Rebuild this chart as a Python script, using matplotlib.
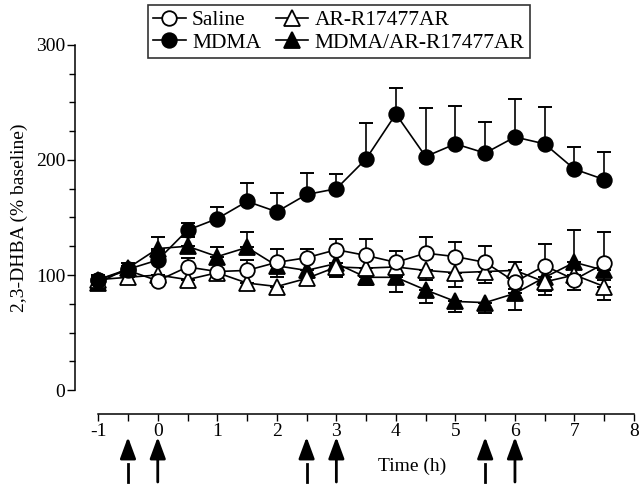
import numpy as np
import matplotlib
matplotlib.use("Agg")
import matplotlib.pyplot as plt
import matplotlib.transforms as mtransforms
from matplotlib.ticker import MultipleLocator

plt.rcParams['font.family'] = ['Liberation Serif', 'DejaVu Serif']

# time points (h)
hours = np.arange(-1, 8, 0.5)

saline = [96, 104, 95, 107, 103, 104, 111, 115, 122, 117, 111, 119, 116, 111, 94, 108, 96, 110]
saline_hi = [3, 4, 5, 8, 7, 9, 12, 8, 9, 14, 10, 14, 13, 14, 0, 19, 0, 27]
saline_lo = [0, 0, 0, 0, 0, 0, 0, 0, 0, 0, 0, 0, 0, 0, 6, 0, 9, 0]

ar = [96, 98, 100, 96, 102, 93, 90, 97, 107, 106, 107, 104, 102, 103, 104, 94, 100, 90]
ar_hi = [0, 0, 0, 0, 0, 0, 0, 0, 0, 0, 0, 0, 0, 0, 7, 0, 0, 0]
ar_lo = [3, 4, 5, 5, 6, 6, 6, 6, 8, 8, 8, 8, 12, 10, 0, 11, 8, 12]

mdma = [96, 105, 113, 139, 149, 164, 155, 170, 175, 201, 240, 203, 214, 206, 220, 214, 192, 183]
mdma_hi = [4, 5, 8, 6, 10, 16, 16, 19, 13, 31, 23, 42, 33, 27, 33, 32, 19, 24]
mdma_lo = [0] * 18

mdma_ar = [93, 106, 123, 125, 116, 124, 108, 104, 110, 98, 98, 87, 77, 76, 84, 98, 111, 104]
mdma_ar_hi = [0, 0, 10, 8, 8, 13, 0, 0, 0, 0, 0, 0, 0, 0, 0, 0, 28, 0]
mdma_ar_lo = [4, 4, 0, 0, 0, 0, 10, 6, 12, 7, 13, 11, 9, 9, 14, 12, 0, 8]

# drug administration times
solid_arrows = [0, 3, 6]
dashed_arrows = [-0.5, 2.5, 5.5]

fig = plt.figure(figsize=(6.4, 4.86), dpi=100)
ax = fig.add_axes([75 / 640, 96 / 486, (637 - 75) / 640, 345 / 486])

# drawing order: later series sit on top
series = [
    ("MDMA/AR-R17477AR", mdma_ar, mdma_ar_lo, mdma_ar_hi, "^", "black", 11),
    ("AR-R17477AR", ar, ar_lo, ar_hi, "^", "white", 11),
    ("Saline", saline, saline_lo, saline_hi, "o", "white", 10.5),
    ("MDMA", mdma, mdma_lo, mdma_hi, "o", "black", 10.5),
]

handles = {}
for i, (name, y, lo, hi, mk, fc, ms) in enumerate(series):
    z = 2 + i
    ax.errorbar(hours, y, yerr=[lo, hi], fmt='none', ecolor='black',
                elinewidth=1.2, capsize=5, capthick=1.4, zorder=z)
    h, = ax.plot(hours, y, color='black', lw=1.2, marker=mk, ms=ms,
                 mfc=fc, mec='black', mew=1.3, zorder=z + 0.5)
    handles[name] = h

ax.set_xlim(-1.39, 8.05)
ax.set_ylim(0, 300)

for s in ['top', 'right']:
    ax.spines[s].set_visible(False)
ax.spines['left'].set_bounds(0, 300)
ax.spines['bottom'].set_position(('outward', 17))
ax.spines['bottom'].set_bounds(-1, 8)
ax.spines['left'].set_linewidth(1.1)
ax.spines['bottom'].set_linewidth(1.1)

ax.set_yticks([0, 100, 200, 300])
ax.yaxis.set_minor_locator(MultipleLocator(25))
ax.set_xticks(range(-1, 9))
ax.set_xticklabels([str(v) for v in range(-1, 9)])
ax.xaxis.set_minor_locator(MultipleLocator(0.5))
ax.tick_params(axis='y', which='major', length=6, width=1, labelsize=14, pad=1)
ax.tick_params(axis='y', which='minor', length=4, width=1)
ax.tick_params(axis='x', which='major', length=5, width=1, labelsize=14, pad=2)
ax.tick_params(axis='x', which='minor', length=5, width=1)

ax.set_ylabel("2,3-DHBA (% baseline)", fontsize=14, labelpad=6)

trans = mtransforms.blended_transform_factory(ax.transData, ax.transAxes)
ax.text(4.27, (390 - 466) / 345, "Time (h)", fontsize=14, ha='center', va='center',
        transform=trans)

# arrows under the time axis
head_top = (390 - 437) / 345
head_base = (390 - 455) / 345
gap_end = (390 - 464) / 345
shaft_end = (390 - 482) / 345
arrow_props = dict(arrowstyle='-|>,head_length=0.65,head_width=0.24',
                   color='black', lw=2, mutation_scale=20, shrinkA=0, shrinkB=0)
for x in solid_arrows:
    ax.annotate('', xy=(x, head_top), xytext=(x, shaft_end), xycoords=trans,
                textcoords=trans, arrowprops=arrow_props, annotation_clip=False)
for x in dashed_arrows:
    ax.annotate('', xy=(x, head_top), xytext=(x, head_base - 0.003), xycoords=trans,
                textcoords=trans, arrowprops=arrow_props, annotation_clip=False)
    ax.plot([x, x], [gap_end, shaft_end], color='black', lw=2,
            transform=trans, clip_on=False)

order = ["Saline", "MDMA", "AR-R17477AR", "MDMA/AR-R17477AR"]
leg = fig.legend([handles[k] for k in order], order, ncol=2, loc='upper center',
                 bbox_to_anchor=(339 / 640, 1 - 5 / 486), fontsize=15.5,
                 frameon=True, fancybox=False, edgecolor='black',
                 handlelength=1.5, handletextpad=0.3, columnspacing=0.7,
                 borderpad=0.25, labelspacing=0.1, borderaxespad=0)
leg.get_frame().set_linewidth(1.2)

fig.savefig("out.png", dpi=100)
